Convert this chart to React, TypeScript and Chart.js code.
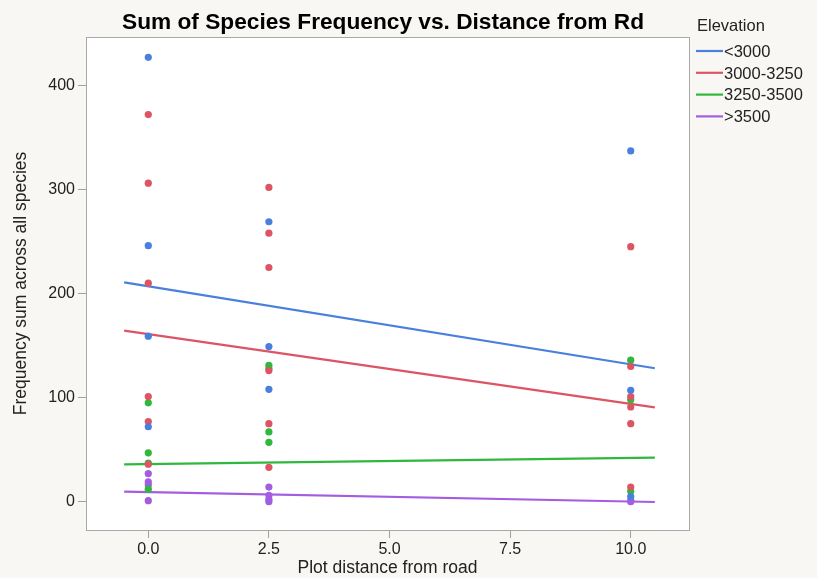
import React, { useEffect, useRef } from "react";
import { Chart, registerables } from "chart.js";

Chart.register(...registerables);

const chartTitle = "Sum of Species Frequency vs. Distance from Rd";
const legendTitle = "Elevation";
const xAxisTitle = "Plot distance from road";
const yAxisTitle = "Frequency sum across all species";

const groups = ["<3000", "3000-3250", "3250-3500", ">3500"];
const groupColors = ["#4a80dd", "#dd5565", "#2fb83c", "#a35de0"];

// distances (x) and frequency sums (y) per elevation group
const blueX = [0, 0, 0, 0, 2.5, 2.5, 2.5, 10, 10, 10];
const blueY = [427, 246, 159, 72, 269, 149, 108, 337, 107, 5];

const redX = [0, 0, 0, 0, 0, 0, 2.5, 2.5, 2.5, 2.5, 2.5, 2.5, 10, 10, 10, 10, 10, 10];
const redY = [372, 306, 210, 101, 77, 36, 302, 258, 225, 126, 75, 33, 245, 130, 101, 91, 75, 14];

const greenX = [0, 0, 0, 0, 2.5, 2.5, 2.5, 2.5, 10, 10, 10];
const greenY = [95, 47, 37, 12, 131, 128, 67, 57, 136, 98, 10];

const purpleX = [0, 0, 0, 0, 2.5, 2.5, 2.5, 2.5, 10, 10];
const purpleY = [27, 19, 16, 1, 14, 6, 2, 0, 1, 0];

const seriesX = [blueX, redX, greenX, purpleX];
const seriesY = [blueY, redY, greenY, purpleY];

// fitted line values read at the two ends of each fit line
const fitX = [-0.5, 10.5];
const fitStartY = [210.8, 164.3, 35.9, 9.6];
const fitEndY = [128.2, 90.7, 42.3, -0.3];

const xTicks = [0, 2.5, 5, 7.5, 10];
const yTicks = [0, 100, 200, 300, 400];

const FONT = '"Liberation Sans", Arial, Helvetica, sans-serif';

export default function App() {
  const canvasRef = useRef<HTMLCanvasElement | null>(null);

  useEffect(() => {
    document.body.style.margin = "0";
    const canvas = canvasRef.current;
    if (!canvas) return;

    const pointSets = groups.map((g, i) => ({
      type: "scatter" as const,
      label: g,
      data: seriesX[i].map((x, j) => ({ x, y: seriesY[i][j] })),
      backgroundColor: groupColors[i],
      borderWidth: 0,
      pointRadius: 3.6,
      pointHoverRadius: 3.6,
      showLine: false,
      order: 0,
    }));
    const lineSets = groups.map((g, i) => ({
      type: "line" as const,
      label: g + " fit",
      data: [
        { x: fitX[0], y: fitStartY[i] },
        { x: fitX[1], y: fitEndY[i] },
      ],
      borderColor: groupColors[i],
      borderWidth: 2.2,
      pointRadius: 0,
      fill: false,
      order: 1,
    }));

    const decor = {
      id: "decor",
      beforeDraw(chart: any) {
        const { ctx, chartArea: a, width, height } = chart;
        ctx.save();
        ctx.fillStyle = "#f8f7f4";
        ctx.fillRect(0, 0, width, height);
        ctx.fillStyle = "#ffffff";
        ctx.fillRect(a.left, a.top, a.right - a.left, a.bottom - a.top);
        ctx.restore();
      },
      afterDraw(chart: any) {
        const { ctx, chartArea: a } = chart;
        ctx.save();
        ctx.strokeStyle = "#a8a8a8";
        ctx.lineWidth = 1;
        ctx.strokeRect(a.left + 0.5, a.top + 0.5, a.right - a.left, a.bottom - a.top);
        // title
        ctx.fillStyle = "#000000";
        ctx.font = "bold 22.7px " + FONT;
        ctx.textAlign = "center";
        ctx.textBaseline = "alphabetic";
        ctx.fillText(chartTitle, 383, 28.5);
        // legend
        ctx.textAlign = "left";
        ctx.font = "16.5px " + FONT;
        ctx.fillStyle = "#222222";
        ctx.fillText(legendTitle, 697, 30.5);
        groups.forEach((g, i) => {
          const y = 51 + i * 21.8;
          ctx.strokeStyle = groupColors[i];
          ctx.lineWidth = 2.2;
          ctx.beginPath();
          ctx.moveTo(696, y);
          ctx.lineTo(723, y);
          ctx.stroke();
          ctx.fillStyle = "#222222";
          ctx.fillText(g, 724, y + 5.8);
        });
        ctx.restore();
      },
    };

    const chart = new Chart(canvas, {
      type: "scatter",
      data: { datasets: [...pointSets, ...lineSets] as any },
      options: {
        animation: false,
        responsive: false,
        devicePixelRatio: 1,
        layout: { padding: { left: 0, top: 37, right: 128, bottom: 0 } },
        plugins: {
          legend: { display: false },
          title: { display: false },
          tooltip: { enabled: false },
        },
        scales: {
          x: {
            type: "linear",
            min: -1.291,
            max: 11.208,
            afterBuildTicks: (s: any) => {
              s.ticks = xTicks.map((v) => ({ value: v }));
            },
            afterFit: (s: any) => {
              s.height = 48;
            },
            ticks: {
              color: "#222222",
              font: { family: FONT, size: 16 },
              padding: 2,
              maxRotation: 0,
              callback: (v: any) => Number(v).toFixed(1),
            },
            grid: {
              drawOnChartArea: false,
              drawTicks: true,
              tickLength: 8,
              tickColor: "#a0a0a0",
            },
            border: { display: false },
            title: {
              display: true,
              text: xAxisTitle,
              color: "#222222",
              font: { family: FONT, size: 17.5 },
              padding: { top: 0, bottom: -1 },
            },
          },
          y: {
            type: "linear",
            min: -27.2,
            max: 446.5,
            afterBuildTicks: (s: any) => {
              s.ticks = yTicks.map((v) => ({ value: v }));
            },
            afterFit: (s: any) => {
              s.width = 86;
            },
            ticks: {
              color: "#222222",
              font: { family: FONT, size: 16 },
              padding: 3,
            },
            grid: {
              drawOnChartArea: false,
              drawTicks: true,
              tickLength: 8,
              tickColor: "#a0a0a0",
            },
            border: { display: false },
            title: {
              display: true,
              text: yAxisTitle,
              color: "#222222",
              font: { family: FONT, size: 17.5 },
              padding: { top: 11, bottom: 0 },
            },
          },
        },
      },
      plugins: [decor],
    });

    return () => chart.destroy();
  }, []);

  return (
    <div style={{ width: 817, height: 578 }}>
      <canvas ref={canvasRef} width={817} height={578} style={{ display: "block", width: 817, height: 578 }} />
    </div>
  );
}
